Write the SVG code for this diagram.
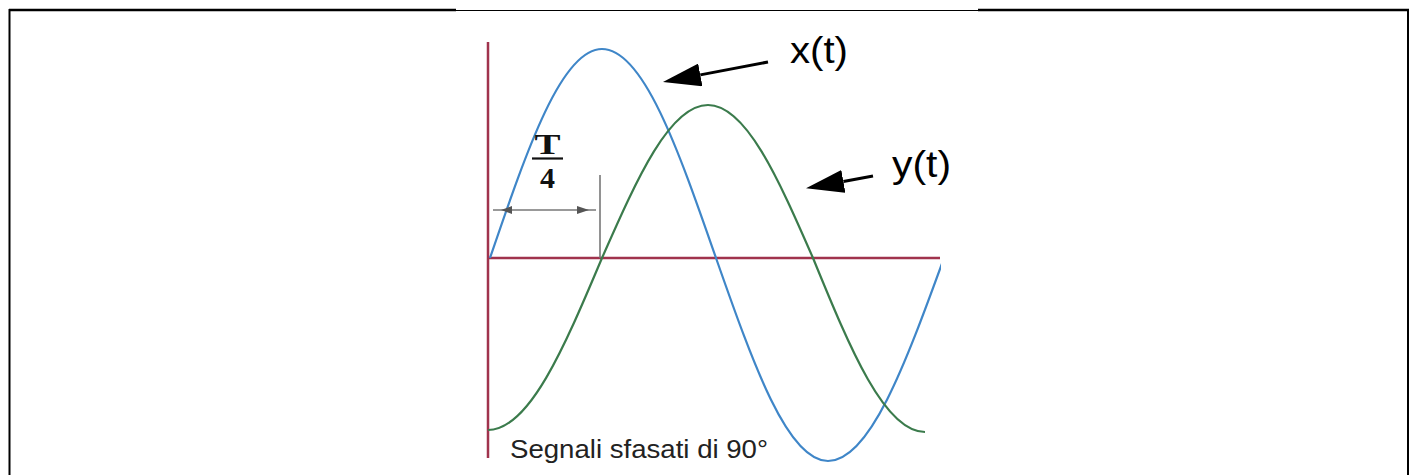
<svg xmlns="http://www.w3.org/2000/svg" width="1416" height="475" viewBox="0 0 1416 475">
<style>
.frame{stroke:#000;fill:none}
.axis{stroke:#a0334d;stroke-width:2.5;fill:none}
.wave{fill:none;stroke-width:2.2}
.x{stroke:#3f86c8}
.y{stroke:#3b7b4c}
.dim{stroke:#777;stroke-width:1.6;fill:none}
.dimhead{fill:#555}
.lbl{font-family:"Liberation Sans",Arial,sans-serif;font-size:36px;fill:#000}
.frac{font-family:"Liberation Serif","Times New Roman",serif;font-weight:bold;font-size:30px;fill:#111}
.cap{font-family:"Liberation Sans",Arial,sans-serif;font-size:26px;fill:#222}
.ptr{stroke:#000;stroke-width:3;fill:none}
</style>
<defs>
<marker id="head" markerUnits="userSpaceOnUse" viewBox="0 0 38 23" markerWidth="38" markerHeight="23" refX="0" refY="11.5" orient="auto">
<path d="M0,0 L38,11.5 L0,23 Z" fill="#000"/>
</marker>
<clipPath id="clipx"><rect x="0" y="0" width="941" height="475"/></clipPath>
</defs>
<g id="frame">
<line class="frame" x1="9" y1="10" x2="456" y2="10" stroke-width="2.5"/>
<line class="frame" x1="456" y1="10.5" x2="978" y2="10.5" stroke-width="1"/>
<line class="frame" x1="978" y1="10" x2="1409" y2="10" stroke-width="2.5"/>
<line class="frame" x1="9.5" y1="9" x2="9.5" y2="475" stroke-width="2"/>
<line class="frame" x1="1408" y1="9" x2="1408" y2="475" stroke-width="2"/>
</g>
<g id="axes">
<line class="axis" x1="488" y1="42" x2="488" y2="458"/>
<line class="axis" x1="488" y1="258" x2="940" y2="258"/>
</g>
<g id="x-wave">
<path class="wave x" clip-path="url(#clipx)" d="M490,258 C527.4,148.3 561.6,49 602,49 C643.1,49 677.9,148.3 716,258 C753.4,364.6 787.6,461 828,461 C869.8,461 905.2,364.6 944,258"/>
</g>
<g id="y-wave">
<path class="wave y" d="M488,430 C529.1,430 563.9,348.3 602,258 C637.4,177.7 669.8,105 708,105 C745.8,105 777.9,177.7 813,258 C850.4,349.4 884.6,432 925,432"/>
</g>
<g id="quarter-period">
<line class="dim" x1="600" y1="175" x2="600" y2="258"/>
<line class="dim" x1="493" y1="210" x2="596" y2="210"/>
<polygon class="dimhead" points="501,210 512,206 512,214"/>
<polygon class="dimhead" points="589,210 577,206 577,214"/>
<text class="frac" x="547.5" y="154" text-anchor="middle" textLength="26" lengthAdjust="spacingAndGlyphs">T</text>
<line x1="532" y1="158.5" x2="563" y2="158.5" stroke="#111" stroke-width="2.2"/>
<text class="frac" x="547.5" y="188" text-anchor="middle">4</text>
</g>
<g id="connectors">
<line class="ptr" x1="768" y1="62" x2="700.3" y2="74.9" marker-end="url(#head)"/>
<line class="ptr" x1="873" y1="176" x2="843.4" y2="181.4" marker-end="url(#head)"/>
</g>
<g id="label-x">
<text class="lbl" x="790" y="63" textLength="58" lengthAdjust="spacingAndGlyphs">x(t)</text>
</g>
<g id="label-y">
<text class="lbl" x="892" y="177" textLength="59" lengthAdjust="spacingAndGlyphs">y(t)</text>
</g>
<g id="caption">
<text class="cap" x="510" y="458" textLength="258" lengthAdjust="spacingAndGlyphs">Segnali sfasati di 90°</text>
</g>
</svg>
